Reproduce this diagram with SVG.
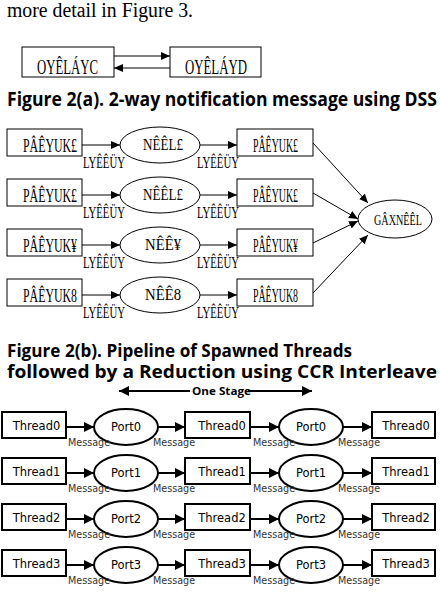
<svg xmlns="http://www.w3.org/2000/svg" width="440" height="596" viewBox="0 0 440 596">
<defs>
<marker id="ah" markerUnits="userSpaceOnUse" markerWidth="10" markerHeight="10" refX="9" refY="4" orient="auto"><path d="M0,0 L9,4 L0,8 Z" fill="#000"/></marker>
<marker id="ahb" markerUnits="userSpaceOnUse" markerWidth="12" markerHeight="12" refX="10" refY="5" orient="auto"><path d="M0,0 L10,5 L0,10 Z" fill="#000"/></marker>
<style>
.thin{fill:#fff;stroke:#000;stroke-width:1}
.thick{fill:#fff;stroke:#000;stroke-width:2}
.ser{font-family:"Liberation Serif","DejaVu Serif",serif;fill:#000}
.cap{font-family:"Open Sans","DejaVu Sans",sans-serif;font-weight:700;fill:#000}
.sans{font-family:"DejaVu Sans","Liberation Sans",sans-serif;fill:#000}
.msg{font-family:"DejaVu Sans","Liberation Sans",sans-serif;fill:#333;font-size:9.6px}
.c1{stroke:#000;stroke-width:1;fill:none}
.c2{stroke:#000;stroke-width:2;fill:none}
</style>
</defs>
<rect width="440" height="596" fill="#fff"/>
<text class="ser" x="7" y="17" font-size="20" textLength="186" lengthAdjust="spacingAndGlyphs">more detail in Figure 3.</text>

<g id="a1"><rect class="thin" x="22" y="47" width="92" height="30"/><text class="ser" x="37" y="74" font-size="20" textLength="61" lengthAdjust="spacingAndGlyphs">OYÊLÁYC</text></g>
<g id="a2"><rect class="thin" x="170" y="47" width="91" height="30"/><text class="ser" x="185" y="74" font-size="20" textLength="62" lengthAdjust="spacingAndGlyphs">OYÊLÁYD</text></g>
<text class="cap" x="7" y="106" font-size="20" textLength="430" lengthAdjust="spacingAndGlyphs">Figure 2(a). 2-way notification message using DSS</text>

<g id="b-l0"><rect class="thin" x="7" y="129" width="75" height="27"/><text class="ser" x="23" y="152" font-size="18" textLength="54" lengthAdjust="spacingAndGlyphs">PÂÊYUK£</text></g>
<g id="b-p0"><ellipse class="thin" cx="160" cy="145" rx="40" ry="18"/><text class="ser" x="143" y="150" font-size="17" textLength="40" lengthAdjust="spacingAndGlyphs">NÊÊL£</text></g>
<g id="b-r0"><rect class="thin" x="237" y="129" width="76" height="27"/><text class="ser" x="253" y="152" font-size="18" textLength="45" lengthAdjust="spacingAndGlyphs">PÂÊYUK£</text></g>

<g id="b-l1"><rect class="thin" x="7" y="179" width="75" height="27"/><text class="ser" x="23" y="202" font-size="18" textLength="54" lengthAdjust="spacingAndGlyphs">PÂÊYUK£</text></g>
<g id="b-p1"><ellipse class="thin" cx="160" cy="195" rx="40" ry="18"/><text class="ser" x="143" y="200" font-size="17" textLength="40" lengthAdjust="spacingAndGlyphs">NÊÊL£</text></g>
<g id="b-r1"><rect class="thin" x="237" y="179" width="76" height="27"/><text class="ser" x="253" y="202" font-size="18" textLength="45" lengthAdjust="spacingAndGlyphs">PÂÊYUK£</text></g>

<g id="b-l2"><rect class="thin" x="7" y="229" width="75" height="27"/><text class="ser" x="23" y="252" font-size="18" textLength="54" lengthAdjust="spacingAndGlyphs">PÂÊYUK¥</text></g>
<g id="b-p2"><ellipse class="thin" cx="160" cy="245" rx="40" ry="18"/><text class="ser" x="145" y="250" font-size="17" textLength="36" lengthAdjust="spacingAndGlyphs">NÊÊ¥</text></g>
<g id="b-r2"><rect class="thin" x="237" y="229" width="76" height="27"/><text class="ser" x="253" y="252" font-size="18" textLength="45" lengthAdjust="spacingAndGlyphs">PÂÊYUK¥</text></g>

<g id="b-l3"><rect class="thin" x="7" y="279" width="75" height="27"/><text class="ser" x="23" y="302" font-size="18" textLength="54" lengthAdjust="spacingAndGlyphs">PÂÊYUK8</text></g>
<g id="b-p3"><ellipse class="thin" cx="160" cy="295" rx="40" ry="18"/><text class="ser" x="145" y="300" font-size="17" textLength="36" lengthAdjust="spacingAndGlyphs">NÊÊ8</text></g>
<g id="b-r3"><rect class="thin" x="237" y="279" width="76" height="27"/><text class="ser" x="253" y="302" font-size="18" textLength="45" lengthAdjust="spacingAndGlyphs">PÂÊYUK8</text></g>

<g id="b-red"><ellipse class="thin" cx="395" cy="219" rx="37" ry="19"/><text class="ser" x="374" y="225" font-size="15" textLength="48" lengthAdjust="spacingAndGlyphs">GÂXNÊÊL</text></g>

<g id="b-labels">
<text class="ser" x="83" y="168" font-size="16" textLength="42" lengthAdjust="spacingAndGlyphs">LYÊÊÜY</text>
<text class="ser" x="197" y="168" font-size="16" textLength="42" lengthAdjust="spacingAndGlyphs">LYÊÊÜY</text>
<text class="ser" x="83" y="218" font-size="16" textLength="42" lengthAdjust="spacingAndGlyphs">LYÊÊÜY</text>
<text class="ser" x="197" y="218" font-size="16" textLength="42" lengthAdjust="spacingAndGlyphs">LYÊÊÜY</text>
<text class="ser" x="83" y="268" font-size="16" textLength="42" lengthAdjust="spacingAndGlyphs">LYÊÊÜY</text>
<text class="ser" x="197" y="268" font-size="16" textLength="42" lengthAdjust="spacingAndGlyphs">LYÊÊÜY</text>
<text class="ser" x="83" y="318" font-size="16" textLength="42" lengthAdjust="spacingAndGlyphs">LYÊÊÜY</text>
<text class="ser" x="197" y="318" font-size="16" textLength="42" lengthAdjust="spacingAndGlyphs">LYÊÊÜY</text>
</g>

<text class="cap" x="7" y="357" font-size="18" textLength="345" lengthAdjust="spacingAndGlyphs">Figure 2(b). Pipeline of Spawned Threads</text>
<text class="cap" x="7" y="378" font-size="18" textLength="430" lengthAdjust="spacingAndGlyphs">followed by a Reduction using CCR Interleave</text>
<text class="cap" x="192" y="395" font-size="11" textLength="59" lengthAdjust="spacingAndGlyphs">One Stage</text>

<g id="c-t00"><rect class="thick" x="2" y="412" width="64" height="26"/><text class="sans" x="36.5" y="430" font-size="11.5" text-anchor="middle">Thread0</text></g>
<g id="c-p00"><ellipse class="thick" cx="126" cy="427" rx="32" ry="18"/><text class="sans" x="126" y="431" font-size="11.5" text-anchor="middle">Port0</text></g>
<g id="c-t01"><rect class="thick" x="185" y="412" width="65" height="26"/><text class="sans" x="222" y="430" font-size="11.5" text-anchor="middle">Thread0</text></g>
<g id="c-p01"><ellipse class="thick" cx="311" cy="427" rx="32" ry="18"/><text class="sans" x="311" y="431" font-size="11.5" text-anchor="middle">Port0</text></g>
<g id="c-t02"><rect class="thick" x="372" y="412" width="63" height="26"/><text class="sans" x="406" y="430" font-size="11.5" text-anchor="middle">Thread0</text></g>

<g id="c-t10"><rect class="thick" x="2" y="458" width="64" height="26"/><text class="sans" x="36.5" y="476" font-size="11.5" text-anchor="middle">Thread1</text></g>
<g id="c-p10"><ellipse class="thick" cx="126" cy="473" rx="32" ry="18"/><text class="sans" x="126" y="477" font-size="11.5" text-anchor="middle">Port1</text></g>
<g id="c-t11"><rect class="thick" x="185" y="458" width="65" height="26"/><text class="sans" x="222" y="476" font-size="11.5" text-anchor="middle">Thread1</text></g>
<g id="c-p11"><ellipse class="thick" cx="311" cy="473" rx="32" ry="18"/><text class="sans" x="311" y="477" font-size="11.5" text-anchor="middle">Port1</text></g>
<g id="c-t12"><rect class="thick" x="372" y="458" width="63" height="26"/><text class="sans" x="406" y="476" font-size="11.5" text-anchor="middle">Thread1</text></g>

<g id="c-t20"><rect class="thick" x="2" y="504" width="64" height="26"/><text class="sans" x="36.5" y="522" font-size="11.5" text-anchor="middle">Thread2</text></g>
<g id="c-p20"><ellipse class="thick" cx="126" cy="519" rx="32" ry="18"/><text class="sans" x="126" y="523" font-size="11.5" text-anchor="middle">Port2</text></g>
<g id="c-t21"><rect class="thick" x="185" y="504" width="65" height="26"/><text class="sans" x="222" y="522" font-size="11.5" text-anchor="middle">Thread2</text></g>
<g id="c-p21"><ellipse class="thick" cx="311" cy="519" rx="32" ry="18"/><text class="sans" x="311" y="523" font-size="11.5" text-anchor="middle">Port2</text></g>
<g id="c-t22"><rect class="thick" x="372" y="504" width="63" height="26"/><text class="sans" x="406" y="522" font-size="11.5" text-anchor="middle">Thread2</text></g>

<g id="c-t30"><rect class="thick" x="2" y="550" width="64" height="26"/><text class="sans" x="36.5" y="568" font-size="11.5" text-anchor="middle">Thread3</text></g>
<g id="c-p30"><ellipse class="thick" cx="126" cy="565" rx="32" ry="18"/><text class="sans" x="126" y="569" font-size="11.5" text-anchor="middle">Port3</text></g>
<g id="c-t31"><rect class="thick" x="185" y="550" width="65" height="26"/><text class="sans" x="222" y="568" font-size="11.5" text-anchor="middle">Thread3</text></g>
<g id="c-p31"><ellipse class="thick" cx="311" cy="565" rx="32" ry="18"/><text class="sans" x="311" y="569" font-size="11.5" text-anchor="middle">Port3</text></g>
<g id="c-t32"><rect class="thick" x="372" y="550" width="63" height="26"/><text class="sans" x="406" y="568" font-size="11.5" text-anchor="middle">Thread3</text></g>

<g id="connectors">
<line class="c1" x1="114" y1="56" x2="170" y2="56" marker-end="url(#ah)"/>
<line class="c1" x1="170" y1="68" x2="114" y2="68" marker-end="url(#ah)"/>

<line class="c1" x1="82" y1="145" x2="120" y2="145" marker-end="url(#ah)"/>
<line class="c1" x1="200" y1="145" x2="237" y2="145" marker-end="url(#ah)"/>
<line class="c1" x1="82" y1="195" x2="120" y2="195" marker-end="url(#ah)"/>
<line class="c1" x1="200" y1="195" x2="237" y2="195" marker-end="url(#ah)"/>
<line class="c1" x1="82" y1="245" x2="120" y2="245" marker-end="url(#ah)"/>
<line class="c1" x1="200" y1="245" x2="237" y2="245" marker-end="url(#ah)"/>
<line class="c1" x1="82" y1="295" x2="120" y2="295" marker-end="url(#ah)"/>
<line class="c1" x1="200" y1="295" x2="237" y2="295" marker-end="url(#ah)"/>

<line class="c1" x1="313" y1="143" x2="368" y2="203" marker-end="url(#ah)"/>
<line class="c1" x1="313" y1="193" x2="358" y2="219" marker-end="url(#ah)"/>
<line class="c1" x1="313" y1="243" x2="358" y2="221" marker-end="url(#ah)"/>
<line class="c1" x1="313" y1="293" x2="368" y2="235" marker-end="url(#ah)"/>

<line class="c2" x1="190" y1="391" x2="119" y2="391" marker-end="url(#ahb)"/>
<line class="c2" x1="248" y1="391" x2="312" y2="391" marker-end="url(#ahb)"/>

<line class="c2" x1="66" y1="427" x2="94" y2="427" marker-end="url(#ahb)"/>
<line class="c2" x1="158" y1="427" x2="185" y2="427" marker-end="url(#ahb)"/>
<line class="c2" x1="250" y1="427" x2="279" y2="427" marker-end="url(#ahb)"/>
<line class="c2" x1="343" y1="427" x2="372" y2="427" marker-end="url(#ahb)"/>
<line class="c2" x1="66" y1="473" x2="94" y2="473" marker-end="url(#ahb)"/>
<line class="c2" x1="158" y1="473" x2="185" y2="473" marker-end="url(#ahb)"/>
<line class="c2" x1="250" y1="473" x2="279" y2="473" marker-end="url(#ahb)"/>
<line class="c2" x1="343" y1="473" x2="372" y2="473" marker-end="url(#ahb)"/>
<line class="c2" x1="66" y1="519" x2="94" y2="519" marker-end="url(#ahb)"/>
<line class="c2" x1="158" y1="519" x2="185" y2="519" marker-end="url(#ahb)"/>
<line class="c2" x1="250" y1="519" x2="279" y2="519" marker-end="url(#ahb)"/>
<line class="c2" x1="343" y1="519" x2="372" y2="519" marker-end="url(#ahb)"/>
<line class="c2" x1="66" y1="565" x2="94" y2="565" marker-end="url(#ahb)"/>
<line class="c2" x1="158" y1="565" x2="185" y2="565" marker-end="url(#ahb)"/>
<line class="c2" x1="250" y1="565" x2="279" y2="565" marker-end="url(#ahb)"/>
<line class="c2" x1="343" y1="565" x2="372" y2="565" marker-end="url(#ahb)"/>
</g>

<g id="c-labels">
<text class="msg" x="68" y="446">Message</text><text class="msg" x="153" y="446">Message</text><text class="msg" x="253" y="446">Message</text><text class="msg" x="338" y="446">Message</text>
<text class="msg" x="68" y="492">Message</text><text class="msg" x="153" y="492">Message</text><text class="msg" x="253" y="492">Message</text><text class="msg" x="338" y="492">Message</text>
<text class="msg" x="68" y="538">Message</text><text class="msg" x="153" y="538">Message</text><text class="msg" x="253" y="538">Message</text><text class="msg" x="338" y="538">Message</text>
<text class="msg" x="68" y="584">Message</text><text class="msg" x="153" y="584">Message</text><text class="msg" x="253" y="584">Message</text><text class="msg" x="338" y="584">Message</text>
</g>
</svg>
